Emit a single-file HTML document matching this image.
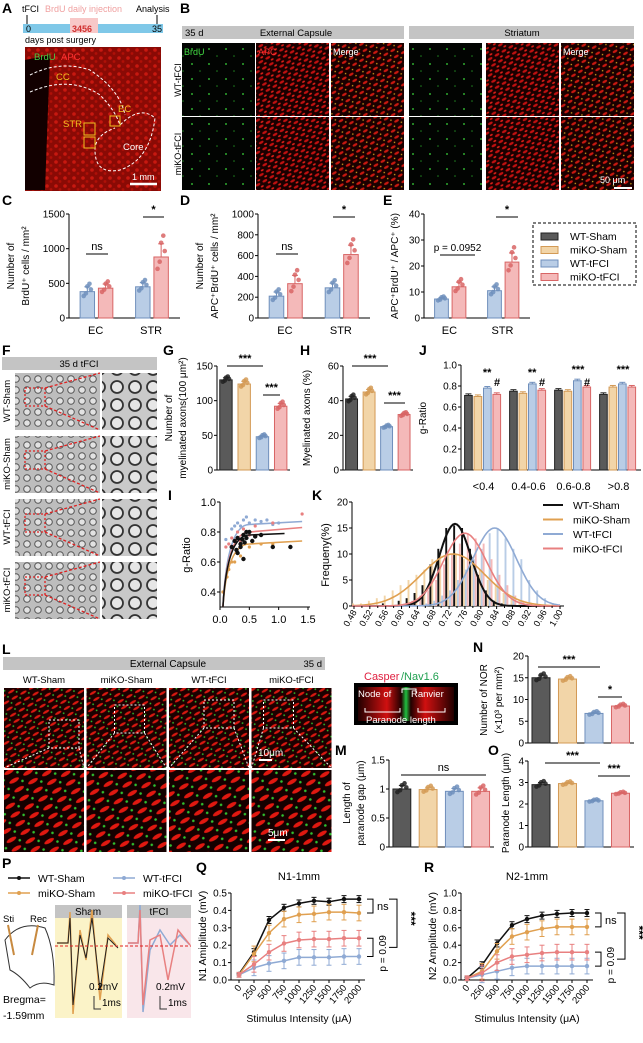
<!DOCTYPE html>
<html><head><meta charset="utf-8">
<style>
body{margin:0;background:#fff;width:643px;height:1038px;overflow:hidden;font-family:"Liberation Sans",Arial,sans-serif;}
svg text{font-family:"Liberation Sans",Arial,sans-serif;}
</style></head>
<body>
<svg id="fig" width="643" height="1038" viewBox="0 0 643 1038" xmlns="http://www.w3.org/2000/svg">
<defs>
<pattern id="redtex" width="9" height="8" patternUnits="userSpaceOnUse"><rect width="9" height="8" fill="#8a0a05"/><circle cx="2" cy="2" r="1.8" fill="#c81810"/><circle cx="6" cy="5.5" r="1.4" fill="#b01008"/></pattern>
<pattern id="mictex" width="8" height="7" patternUnits="userSpaceOnUse" patternTransform="rotate(-30)"><rect width="8" height="7" fill="#1a0000"/><ellipse cx="3" cy="2" rx="2.6" ry="1.2" fill="#c01010"/><ellipse cx="6" cy="5.5" rx="1.6" ry="0.9" fill="#e02018"/></pattern>
<pattern id="grntex" width="17" height="15" patternUnits="userSpaceOnUse"><rect width="17" height="15" fill="#020402"/><circle cx="5" cy="4" r="1" fill="#2ea82e"/><circle cx="13" cy="11" r="0.8" fill="#1e801e"/></pattern>
<pattern id="mrgtex" width="8" height="7" patternUnits="userSpaceOnUse" patternTransform="rotate(-30)"><rect width="8" height="7" fill="#1a0000"/><ellipse cx="3" cy="2" rx="2.6" ry="1.2" fill="#c81810"/><circle cx="6.5" cy="5.5" r="0.8" fill="#d0a020"/></pattern>
<pattern id="emtex" width="11" height="11" patternUnits="userSpaceOnUse"><rect width="11" height="11" fill="#bdbdbd"/><circle cx="5" cy="5" r="3.3" fill="#e2e2e2" stroke="#555" stroke-width="1"/></pattern>
<pattern id="emzoom" width="18" height="18" patternUnits="userSpaceOnUse"><rect width="18" height="18" fill="#c9c9c9"/><circle cx="9" cy="9" r="6" fill="#e6e6e6" stroke="#333" stroke-width="1.8"/></pattern>
<pattern id="lstex" width="10" height="7" patternUnits="userSpaceOnUse" patternTransform="rotate(-30)"><rect width="10" height="7" fill="#1c0000"/><ellipse cx="4" cy="2.5" rx="3.6" ry="1.3" fill="#d81810"/><circle cx="8.5" cy="5.5" r="0.9" fill="#30c030"/></pattern>
<pattern id="lstex2" width="16" height="10" patternUnits="userSpaceOnUse" patternTransform="rotate(-30)"><rect width="16" height="10" fill="#140000"/><ellipse cx="6" cy="3" rx="5.5" ry="2" fill="#e01810"/><circle cx="13" cy="7.5" r="1.3" fill="#30c030"/></pattern>
<linearGradient id="nodegrad" x1="0" x2="1"><stop offset="0" stop-color="#200"/><stop offset="0.3" stop-color="#d01010"/><stop offset="0.45" stop-color="#200"/><stop offset="0.5" stop-color="#20c040"/><stop offset="0.55" stop-color="#200"/><stop offset="0.7" stop-color="#d01010"/><stop offset="1" stop-color="#200"/></linearGradient>
</defs>
<g id="root"></g>
</svg>
<script>
// ---------- data ----------
const groups4 = ['WT-Sham','miKO-Sham','WT-tFCI','miKO-tFCI'];
const fills = ['#5a5a5a','#f2d5a8','#b9cde6','#f4b9b9'];
const edges = ['#222','#d39a55','#6f8fbc','#d86565'];
const cCats = ['EC','STR'];
const cVals = [[380,430],[450,880]];
const cErr = [[70,60],[60,190]];
const cTicks = [0,500,1000,1500];
const dVals = [[210,330],[290,610]];
const dErr = [[40,80],[45,90]];
const dTicks = [0,200,400,600,800,1000];
const eVals = [[7.3,12],[10.5,21.5]];
const eErr = [[0.6,1.8],[1.5,3.5]];
const eTicks = [0,10,20,30,40];
const gVals = [130,124,48,92];
const gErr = [3,4,2,4];
const gTicks = [0,50,100,150];
const hVals = [41,45,25,32];
const hErr = [1.5,1.5,0.6,0.8];
const hTicks = [0,20,40,60];
const jCats = ['<0.4','0.4-0.6','0.6-0.8','>0.8'];
const jVals = [[0.71,0.70,0.78,0.72],[0.75,0.73,0.82,0.76],[0.76,0.75,0.85,0.79],[0.72,0.79,0.82,0.79]];
const jTicks = [0,0.2,0.4,0.6,0.8,1.0];
const nVals = [15,14.7,6.8,8.5];
const nErr = [0.6,0.4,0.3,0.3];
const nTicks = [0,5,10,15,20];
const mVals = [1.0,0.99,0.96,0.96];
const mErr = [0.06,0.04,0.05,0.06];
const mTicks = [0,0.5,1.0,1.5];
const oVals = [2.9,2.95,2.15,2.5];
const oErr = [0.1,0.06,0.04,0.04];
const oTicks = [0,1,2,3,4];
const kBins = [0.48,0.50,0.52,0.54,0.56,0.58,0.60,0.62,0.64,0.66,0.68,0.70,0.72,0.74,0.76,0.78,0.80,0.82,0.84,0.86,0.88,0.90,0.92,0.94,0.96,0.98,1.00];
const kWTS = [0,0,0,0,0.5,0,1,1.5,2.5,4,8,11,15,15.5,15,11,6,3,1,0.5,0,0,0,0,0,0,0];
const kMS  = [0.5,0.5,1,1.5,2,3,4,5,6,7,9,10,10,10,9,8,7,5,4,2.5,1.5,1,0.5,0,0,0,0];
const kWTT = [0,0,0,0,0,0,0,0,0,0.5,1,2,3,5,7,9,11,14,15,13,11,9,5,3,1.5,0.5,0];
const kMT  = [0,0,0,0,0,0,0.5,1,2,3,5,8,10,12,14,13,12,9,6,4,2,1,0.5,0,0,0,0];
const kFit = [[0.735,0.04,15.8],[0.73,0.08,10],[0.835,0.055,15],[0.76,0.055,14]];
const iX = [[0.2,0.25,0.3,0.35,0.4,0.45,0.5,0.3,0.35,0.45,0.55,0.4,0.7,0.38,0.42,0.28,0.6,0.9,1.2],[0.05,0.15,0.2,0.3,0.4,0.5,0.7,0.9,0.12,0.25,0.35],[0.1,0.2,0.3,0.4,0.5,0.6,0.8,1.0,0.35,0.25,0.45,0.7,0.9],[0.1,0.2,0.3,0.4,0.5,0.6,0.9,0.35,0.15,1.4]];
const iY = [[0.7,0.74,0.76,0.72,0.78,0.76,0.8,0.66,0.7,0.8,0.74,0.62,0.78,0.75,0.73,0.68,0.77,0.7,0.7],[0.4,0.55,0.6,0.66,0.62,0.7,0.72,0.72,0.5,0.6,0.64],[0.75,0.82,0.86,0.88,0.86,0.88,0.88,0.86,0.84,0.84,0.9,0.87,0.85],[0.7,0.76,0.8,0.82,0.78,0.84,0.86,0.74,0.72,0.92]];
const iFit = [[0.78,0.79],[0.72,0.74],[0.85,0.87],[0.8,0.83]];
const qX = [0,250,500,750,1000,1250,1500,1750,2000];
const qTicks = [0,0.1,0.2,0.3,0.4,0.5];
const q1 = [[0.035,0.16,0.345,0.415,0.44,0.455,0.45,0.465,0.465],[0.03,0.15,0.27,0.35,0.375,0.38,0.39,0.39,0.385],[0.03,0.07,0.095,0.11,0.13,0.13,0.13,0.135,0.135],[0.03,0.09,0.16,0.21,0.23,0.235,0.235,0.24,0.24]];
const rTicks = [0,0.2,0.4,0.6,0.8,1.0];
const r1 = [[0.02,0.17,0.42,0.63,0.7,0.74,0.76,0.77,0.77],[0.02,0.1,0.33,0.5,0.55,0.59,0.61,0.61,0.61],[0.02,0.06,0.1,0.14,0.16,0.16,0.16,0.16,0.16],[0.02,0.08,0.2,0.27,0.29,0.31,0.32,0.32,0.32]];
const lineCols = ['#111','#e0a050','#8faad4','#e88080'];

// ---------- helpers ----------
const NS='http://www.w3.org/2000/svg';
const root=document.getElementById('root');
function mk(tag,attrs,parent){const e=document.createElementNS(NS,tag);for(const k in attrs)e.setAttribute(k,attrs[k]);(parent||root).appendChild(e);return e;}
function txt(x,y,s,size,opts){opts=opts||{};const a={x:x,y:y,'font-size':size,fill:opts.fill||'#000','text-anchor':opts.anchor||'start'};if(opts.tr)a.transform=opts.tr;if(opts.weight)a['font-weight']=opts.weight;if(opts.style)a['font-style']=opts.style;const t=mk('text',a);t.textContent=s;return t;}
function label(x,y,s){const t=txt(x,y,s,14,{weight:'bold'});}
function yAxis(px,py,pw,ph,ticks,fmt){const lo=ticks[0],hi=ticks[ticks.length-1];const sy=v=>py+ph-(v-lo)/(hi-lo)*ph;
 const a=mk('line',{x1:px,y1:py,x2:px,y2:py+ph,stroke:'#000','stroke-width':1});
 const b=mk('line',{x1:px,y1:py+ph,x2:px+pw,y2:py+ph,stroke:'#000','stroke-width':1});
 ticks.forEach(t=>{mk('line',{x1:px-3,y1:sy(t),x2:px,y2:sy(t),stroke:'#000'});const l=txt(px-4,sy(t)+3.5,fmt?fmt(t):String(t),10,{anchor:'end'});});
 return sy;}
function ylab(xs,y,lines,size){lines.forEach((s,i)=>{const x=xs[i];const t=txt(x,y,s,size||10,{anchor:'middle',tr:'rotate(-90 '+x+' '+y+')'});});}
function bar(x,w,sy,v,err,i,dots){const r=mk('rect',{x:x,y:sy(v),width:w,height:sy(0)-sy(v),fill:fills[i],stroke:edges[i],'stroke-width':1});
 if(err!=null){mk('line',{x1:x+w/2,y1:sy(v+err),x2:x+w/2,y2:sy(v),stroke:edges[i]});mk('line',{x1:x+w/2-3,y1:sy(v+err),x2:x+w/2+3,y2:sy(v+err),stroke:edges[i]});}
 if(dots){[-0.25,0,0.25,-0.1,0.15].forEach((d,k)=>{const c=mk('circle',{cx:x+w/2+d*w,cy:sy(v+[-1,1.2,0.5,-0.4,1.8][k]*err*0.9),r:2.3,fill:edges[i],opacity:0.85});});}}
function sig(x1,x2,y,s){mk('line',{x1:x1,y1:y,x2:x2,y2:y,stroke:'#000'});const t=txt((x1+x2)/2,y-4,s,s.length>4?10:11,{anchor:'middle',weight:(s==='ns'||s.length>4)?'normal':'bold'});}
function twoGroupChart(px,py,pw,ph,ticks,vals,errs){const sy=yAxis(px,py,pw,ph,ticks);const gw=pw/2;
 cCats.forEach((c,g)=>{[2,3].forEach((ci,k)=>{bar(px+g*gw+gw*0.2+k*gw*0.33,gw*0.26,sy,vals[g][k],errs[g][k],ci,true);});
 const l=txt(px+g*gw+gw*0.48,py+ph+16,c,11,{anchor:'middle'});});return sy;}
function fourBar(px,py,pw,ph,ticks,vals,errs){const sy=yAxis(px,py,pw,ph,ticks);const bw=pw/4;vals.forEach((v,i)=>bar(px+i*bw+bw*0.15,bw*0.68,sy,v,errs[i],i,true));return sy;}
function img(x,y,w,h,fill,name){const r=mk('rect',{x:x,y:y,width:w,height:h,fill:fill});return r;}

// ---------- Panel A ----------
label(2,13,'A');
txt(22,12,'tFCI',9);txt(45,12,'BrdU daily injection',9,{fill:'#f0a0a0'});txt(136,12,'Analysis',9);
mk('line',{x1:27,y1:15,x2:27,y2:24,stroke:'#000'});mk('line',{x1:157,y1:15,x2:157,y2:24,stroke:'#000'});
img(23,24,140,9,'#7fc8e8','timeline-bar');
img(70,18,28,15,'#f8c8c8','injection-days');
txt(72,32,'3456',9,{fill:'#d03030',weight:'bold'});txt(26,32,'0',9);txt(152,32,'35',9);
txt(25,43,'days post surgery',9);
img(23,45,140,148,'#fff','brain-frame');img(25,47,136,144,'url(#redtex)','brain-image-a');
mk('path',{d:'M25 60 L50 55 L45 190 L25 190 Z',fill:'#120000'});
mk('path',{d:'M30 75 Q60 60 90 70 Q120 90 125 115',fill:'none',stroke:'#fff','stroke-dasharray':'3,2'});
mk('path',{d:'M30 92 Q70 75 100 95 Q115 110 120 125 Q140 105 155 118 Q150 160 120 170 Q95 175 95 150 Q95 135 115 128',fill:'none',stroke:'#fff','stroke-dasharray':'3,2'});
txt(34,60,'BrdU',9.5,{fill:'#4c4'});txt(61,60,'APC',9.5,{fill:'#f33'});
txt(56,80,'CC',9.5,{fill:'#f0c020'});txt(118,112,'EC',9.5,{fill:'#f0c020'});txt(63,127,'STR',9.5,{fill:'#f0c020'});txt(123,150,'Core',9.5,{fill:'#fff'});
mk('rect',{x:84,y:123,width:11,height:12,fill:'none',stroke:'#f0c020'});mk('rect',{x:84,y:137,width:11,height:11,fill:'none',stroke:'#f0c020'});mk('rect',{x:110,y:116,width:10,height:10,fill:'none',stroke:'#f0c020'});
txt(132,180,'1 mm',9,{fill:'#fff'});mk('line',{x1:130,y1:184,x2:157,y2:184,stroke:'#fff','stroke-width':2.5});

// ---------- Panel B ----------
label(180,13,'B');
img(182,26,222,13,'#c4c4c4','header-external-capsule');img(409,26,225,13,'#c4c4c4','header-striatum');
txt(185,36,'35 d',9.5);txt(296,36,'External Capsule',9.5,{anchor:'middle'});txt(522,36,'Striatum',9.5,{anchor:'middle'});
const bCols=[[182,'#grntex','BrdU'],[256,'#mictex','APC'],[331,'#mrgtex','Merge'],[409,'#grntex',''],[486,'#mictex',''],[561,'#mrgtex','Merge']];
bCols.forEach(p=>{for(let r=0;r<2;r++){img(p[0],43+r*74,73,73,'url('+p[1]+')','micrograph-b');}
 if(p[2])txt(p[0]+2,55,p[2],9,{fill:p[2]==='BrdU'?'#4d4':p[2]==='APC'?'#f33':'#fff'});});
txt(181,80,'WT-tFCI',9,{anchor:'middle',tr:'rotate(-90 181 80)'});txt(181,154,'miKO-tFCI',9,{anchor:'middle',tr:'rotate(-90 181 154)'});
txt(600,183,'50 μm',9,{fill:'#fff'});mk('line',{x1:614,y1:188,x2:632,y2:188,stroke:'#fff','stroke-width':2});

// ---------- C D E ----------
label(2,205,'C');label(180,205,'D');label(383,205,'E');
ylab([14,29],266,['Number of','BrdU⁺ cells / mm²']);
twoGroupChart(69,214,111,104,cTicks,cVals,cErr);
sig(86,108,254,'ns');sig(143,164,217,'*');
ylab([203,218],266,['Number of','APC⁺BrdU⁺ cells / mm²']);
twoGroupChart(258,214,112,104,dTicks,dVals,dErr);
sig(276,298,254,'ns');sig(333,355,217,'*');
ylab([398],266,['APC⁺BrdU⁺ / APC⁺ (%)']);
twoGroupChart(424,214,106,104,eTicks,eVals,eErr);
sig(440,475,255,'p = 0.0952');sig(496,518,217,'*');
(function(){const g=mk('rect',{x:533,y:223,width:103,height:62,fill:'none',stroke:'#000','stroke-dasharray':'3,2'});
 groups4.forEach((s,i)=>{const r=mk('rect',{x:541,y:233+i*13.5,width:17,height:7,fill:fills[i],stroke:edges[i]});
 const t=txt(570,240+i*13.5,s,10.5);});})();

// ---------- F ----------
label(2,355,'F');
img(2,357,155,13,'#c4c4c4','header-35d-tfci');txt(79,367,'35 d tFCI',9.5,{anchor:'middle'});
['WT-Sham','miKO-Sham','WT-tFCI','miKO-tFCI'].forEach((s,r)=>{const y=373+r*63;img(15,y,85,57,'url(#emtex)','em-image');img(102,y,55,57,'url(#emzoom)','em-zoom');
 mk('rect',{x:25,y:y+15,width:20,height:18,fill:'none',stroke:'#e02020','stroke-dasharray':'2,2','stroke-width':1.3});
 mk('line',{x1:45,y1:y+15,x2:100,y2:y,stroke:'#e02020','stroke-dasharray':'3,2','stroke-width':1.3});mk('line',{x1:45,y1:y+33,x2:100,y2:y+57,stroke:'#e02020','stroke-dasharray':'3,2','stroke-width':1.3});
 txt(10,y+28,s,9.5,{anchor:'middle',tr:'rotate(-90 10 '+(y+28)+')'});});

// ---------- G H J ----------
label(163,355,'G');label(300,355,'H');label(419,355,'J');
ylab([172,186],418,['Number of','myelinated axons(100 μm²)']);
fourBar(217,366,73,104,gTicks,gVals,gErr);sig(227,263,366,'***');sig(263,280,395,'***');
ylab([310],418,['Myelinated axons (%)']);
fourBar(343,366,70,104,hTicks,hVals,hErr);sig(352,388,366,'***');sig(384,405,403,'***');
ylab([426],418,['g-Ratio']);
(function(){const px=461,py=365,pw=180,ph=105;const sy=yAxis(px,py,pw,ph,jTicks,v=>v.toFixed(1));const gw=pw/4;
 jCats.forEach((c,g)=>{jVals[g].forEach((v,i)=>bar(px+g*gw+gw*0.08+i*gw*0.21,gw*0.17,sy,v,0.015,i,false));const l=txt(px+g*gw+gw/2,py+ph+20,c,11,{anchor:'middle'});});
 [['**',0,0.58,376],['#',0,0.8,386],['**',1,0.58,376],['#',1,0.8,386],['***',2,0.6,373],['#',2,0.8,386],['***',3,0.6,373]].forEach(a=>{const t=txt(px+a[1]*gw+a[2]*gw,a[3],a[0],11,{anchor:'middle',weight:'bold'});});})();

// ---------- I ----------
label(168,500,'I');
(function(){const px=220,py=502,pw=90,ph=105;const sy=v=>py+ph-(v-0.3)/0.7*ph;const sx=v=>px+v/1.5*88;
 const a=mk('line',{x1:px,y1:py,x2:px,y2:py+ph,stroke:'#000'});
 const b=mk('line',{x1:px,y1:py+ph,x2:px+pw,y2:py+ph,stroke:'#000'});
 [0.4,0.6,0.8,1.0].forEach(t=>{mk('line',{x1:px-3,y1:sy(t),x2:px,y2:sy(t),stroke:'#000'});txt(px-4,sy(t)+4,t.toFixed(1),11,{anchor:'end'});});
 [0,0.5,1.0,1.5].forEach(t=>{mk('line',{x1:sx(t),y1:py+ph,x2:sx(t),y2:py+ph+3,stroke:'#000'});txt(sx(t),py+ph+16,t.toFixed(1),11,{anchor:'middle'});});
 [2,1,3,0].forEach(s=>{iX[s].forEach((v,k)=>{const c=mk('circle',{cx:sx(v),cy:sy(iY[s][k]),r:s===0?2.2:1.6,fill:lineCols[s]});});
 const l=mk('path',{d:`M${sx(0.05)} ${sy(0.3)} Q${sx(0.12)} ${sy(iFit[s][0])} ${sx(0.5)} ${sy(iFit[s][0])} L${sx(s===0?1.1:1.4)} ${sy(iFit[s][1])}`,fill:'none',stroke:lineCols[s],'stroke-width':1.6});});
 ylab([190],555,['g-Ratio'],11);})();

// ---------- K ----------
label(312,500,'K');
(function(){const px=352,py=502,pw=212,ph=104;const sy=yAxis(px,py,pw,ph,[0,5,10,15,20]);const sx=v=>px+(v-0.475)/(1.005-0.475)*210;
 const ser=[kMS,kWTT,kMT,kWTS];const sidx=[1,2,3,0];
 ser.forEach((arr,s)=>arr.forEach((v,k)=>{if(v<=0)return;const i=sidx[s];const r=mk('rect',{x:sx(kBins[k])-3.8+[1,2,3,0][s]*1.9,y:sy(v),width:1.9,height:sy(0)-sy(v),fill:i===0?'#111':fills[i]});}));
 kFit.forEach((p,s)=>{let d='';for(let x=0.475;x<=1.005;x+=0.005){const y=p[2]*Math.exp(-Math.pow(x-p[0],2)/(2*p[1]*p[1]));d+=(d?'L':'M')+sx(x).toFixed(1)+' '+sy(y).toFixed(1);}
 const pa=mk('path',{d:d,fill:'none',stroke:lineCols[s],'stroke-width':s===0?2:1.6});});
 kBins.forEach((b,k)=>{const x=sx(b);mk('line',{x1:x,y1:py+ph,x2:x,y2:py+ph+(k%2?2:3),stroke:'#000'});if(k%2)return;txt(x+3,py+ph+6,b.toFixed(2),9,{anchor:'end',tr:'rotate(-60 '+(x+3)+' '+(py+ph+6)+')'});});
 ylab([329],555,['Frequeny(%)'],11);
 groups4.forEach((s,i)=>{mk('line',{x1:543,y1:505+i*14.5,x2:563,y2:505+i*14.5,stroke:lineCols[i],'stroke-width':2});const t=txt(573,509+i*14.5,s,10.5);});})();

// ---------- L ----------
label(2,654,'L');
img(3,657,322,13,'#c4c4c4','header-external-capsule-l');txt(168,667,'External Capsule',10,{anchor:'middle'});txt(322,667,'35 d',9.5,{anchor:'end'});
['WT-Sham','miKO-Sham','WT-tFCI','miKO-tFCI'].forEach((s,i)=>{const x=4+i*82.5;txt(x+40,683,s,9.5,{anchor:'middle'});img(x,688,80,80,'url(#lstex)','micrograph-l');img(x,770,80,82,'url(#lstex2)','micrograph-l-zoom');
 const bx=x+[45,28,35,12][i],by=[720,705,700,700][i];
 mk('rect',{x:bx,y:by,width:30,height:28,fill:'none',stroke:'#fff','stroke-dasharray':'2,2'});
 mk('line',{x1:bx,y1:by+28,x2:x,y2:768,stroke:'#fff','stroke-dasharray':'2,2'});mk('line',{x1:bx+30,y1:by+28,x2:x+80,y2:768,stroke:'#fff','stroke-dasharray':'2,2'});});
txt(258,756,'10μm',10,{fill:'#fff'});mk('line',{x1:259,y1:760,x2:272,y2:760,stroke:'#fff','stroke-width':2});
txt(268,836,'5μm',10,{fill:'#fff'});mk('line',{x1:268,y1:840,x2:285,y2:840,stroke:'#fff','stroke-width':2});
txt(364,680,'Casper',11,{fill:'#e02040'});txt(401,680,'/Nav1.6',11,{fill:'#20a050'});
img(354,683,104,42,'#000','node-schematic');mk('rect',{x:358,y:687,width:96,height:34,fill:'url(#nodegrad)'});
txt(358,697,'Node of',9.5,{fill:'#fff'});txt(411,697,'Ranvier',9.5,{fill:'#fff'});
mk('path',{d:'M402 693V689H416V693',fill:'none',stroke:'#fff'});
mk('path',{d:'M365 708V712H400V708M418 708V712H445V708',fill:'none',stroke:'#fff'});
txt(366,723,'Paranode length',9.5,{fill:'#fff'});

// ---------- N M O ----------
label(473,652,'N');label(335,755,'M');label(488,755,'O');
ylab([487,502],700,['Number of NOR','(×10³ per mm²)']);
fourBar(528,656,106,87,nTicks,nVals,nErr);sig(538,600,667,'***');sig(598,622,697,'*');
ylab([350,364],803,['Length of','paranode gap (μm)']);
fourBar(389,760,105,87,mTicks,mVals,mErr);sig(401,486,775,'ns');
ylab([509],803,['Paranode Length (μm)']);
fourBar(528,761,106,86,oTicks,oVals,oErr);sig(545,600,763,'***');sig(598,630,776,'***');

// ---------- P ----------
label(2,868,'P');
groups4.forEach((s,i)=>{const x=[8,8,113,113][i],y=[878,893,878,893][i];mk('line',{x1:x,y1:y,x2:x+22,y2:y,stroke:lineCols[i],'stroke-width':1.5});mk('circle',{cx:x+11,cy:y,r:2,fill:lineCols[i]});const t=txt(x+30,y+4,s,10.5);});
txt(3,922,'Sti',9.5);txt(30,922,'Rec',9.5);
mk('path',{d:'M5 940 Q20 920 45 928 Q55 950 54 985 Q40 980 30 988 Q20 975 10 970 Z',fill:'none',stroke:'#333'});
mk('line',{x1:8,y1:925,x2:14,y2:955,stroke:'#c88a40','stroke-width':2});mk('line',{x1:38,y1:925,x2:32,y2:955,stroke:'#c88a40','stroke-width':2});
img(55,905,67,13,'#c4c4c4','header-sham');txt(88,915,'Sham',10,{anchor:'middle'});
img(127,905,64,13,'#c4c4c4','header-tfci');txt(159,915,'tFCI',10,{anchor:'middle'});
img(55,918,67,100,'#fbf3c8','trace-area-sham');img(127,918,64,100,'#f9e6ea','trace-area-tfci');
mk('path',{d:'M57 943 L68 943 L70 912 L73 1014 L80 930 L86 960 L92 910 L100 1000 L108 935 L116 945',fill:'none',stroke:'#e0a050','stroke-width':1.5});
mk('path',{d:'M57 943 L68 943 L70 918 L73 1005 L80 935 L86 958 L92 918 L100 990 L108 938 L118 948',fill:'none',stroke:'#222','stroke-width':1});
mk('path',{d:'M128 943 L138 943 L140 905 L143 1012 L150 950 L160 930 L170 945 L180 935 L190 945',fill:'none',stroke:'#8faad4','stroke-width':1.5});
mk('path',{d:'M128 943 L138 943 L140 910 L143 1005 L150 940 L160 935 L168 980 L178 930 L190 945',fill:'none',stroke:'#e88080','stroke-width':1.5});
mk('line',{x1:55,y1:946,x2:191,y2:946,stroke:'#e02020','stroke-dasharray':'3,2'});
txt(89,990,'0.2mV',10);txt(102,1006,'1ms',10);txt(156,990,'0.2mV',10);txt(168,1006,'1ms',10);
mk('path',{d:'M94 996V1009H101',fill:'none',stroke:'#333'});mk('path',{d:'M160 996V1009H167',fill:'none',stroke:'#333'});
txt(3,1003,'Bregma=',10.5);txt(3,1019,'-1.59mm',10.5);

// ---------- Q R ----------
function lineChart(px,x0,x1,py,ph,ticks,ser,title,name,lx){label(lx,872,name);const t=txt((x0+x1)/2,880,title,11,{anchor:'middle'});
 const sy=yAxis(px,py,x1+6-px,ph,ticks,v=>v.toFixed(1));const sx=v=>x0+v/2000*(x1-x0);const hi=ticks[ticks.length-1];
 qX.forEach(x=>{mk('line',{x1:sx(x),y1:py+ph,x2:sx(x),y2:py+ph+3,stroke:'#000'});txt(sx(x)+3,py+ph+8,String(x),9.5,{anchor:'end',tr:'rotate(-50 '+(sx(x)+3)+' '+(py+ph+8)+')'});});
 ser.forEach((arr,s)=>{let d='';arr.forEach((v,k)=>{d+=(k?'L':'M')+sx(qX[k]).toFixed(1)+' '+sy(v).toFixed(1);const er=hi*(s===0?0.04:0.09)*(k>0?1:0.3);mk('line',{x1:sx(qX[k]),y1:sy(v-er),x2:sx(qX[k]),y2:sy(v+er),stroke:lineCols[s]});mk('line',{x1:sx(qX[k])-2.5,y1:sy(v+er),x2:sx(qX[k])+2.5,y2:sy(v+er),stroke:lineCols[s]});mk('line',{x1:sx(qX[k])-2.5,y1:sy(v-er),x2:sx(qX[k])+2.5,y2:sy(v-er),stroke:lineCols[s]});const c=mk('circle',{cx:sx(qX[k]),cy:sy(v),r:2.2,fill:lineCols[s]});});
 const p=mk('path',{d:d,fill:'none',stroke:lineCols[s],'stroke-width':1.5});});
 const l=txt((x0+x1)/2,1022,'Stimulus Intensity (μA)',10.5,{anchor:'middle'});
 const bx=x1+8,yA=sy(ser[0][8]),yB=sy(ser[1][8]),yC=sy(ser[3][8]),yD=sy(ser[2][8]);
 mk('path',{d:`M${bx} ${yA}H${bx+6}V${yB}H${bx}`,fill:'none',stroke:'#000'});txt(bx+10,(yA+yB)/2+4,'ns',11);
 mk('path',{d:`M${bx} ${yC}H${bx+6}V${yD}H${bx}`,fill:'none',stroke:'#000'});txt(bx+19,(yC+yD)/2+6,'p = 0.09',10,{anchor:'middle',tr:`rotate(-90 ${bx+19} ${(yC+yD)/2+6})`});
 mk('path',{d:`M${bx+22} ${yA}H${bx+30}V${(yC+yD)/2}H${bx+22}`,fill:'none',stroke:'#000'});txt(bx+40,(yA+yC)/2,'***',12,{anchor:'middle',weight:'bold',tr:`rotate(90 ${bx+40} ${(yA+yC)/2})`});}
ylab([206],936,['N1 Amiplitude (mV)'],10.5);
lineChart(231,239,359,893,87,qTicks,q1,'N1-1mm','Q',196);
ylab([436],936,['N2 Amplitude (mV)'],10.5);
lineChart(461,467,587,893,87,rTicks,r1,'N2-1mm','R',424);
</script>
</body></html>
